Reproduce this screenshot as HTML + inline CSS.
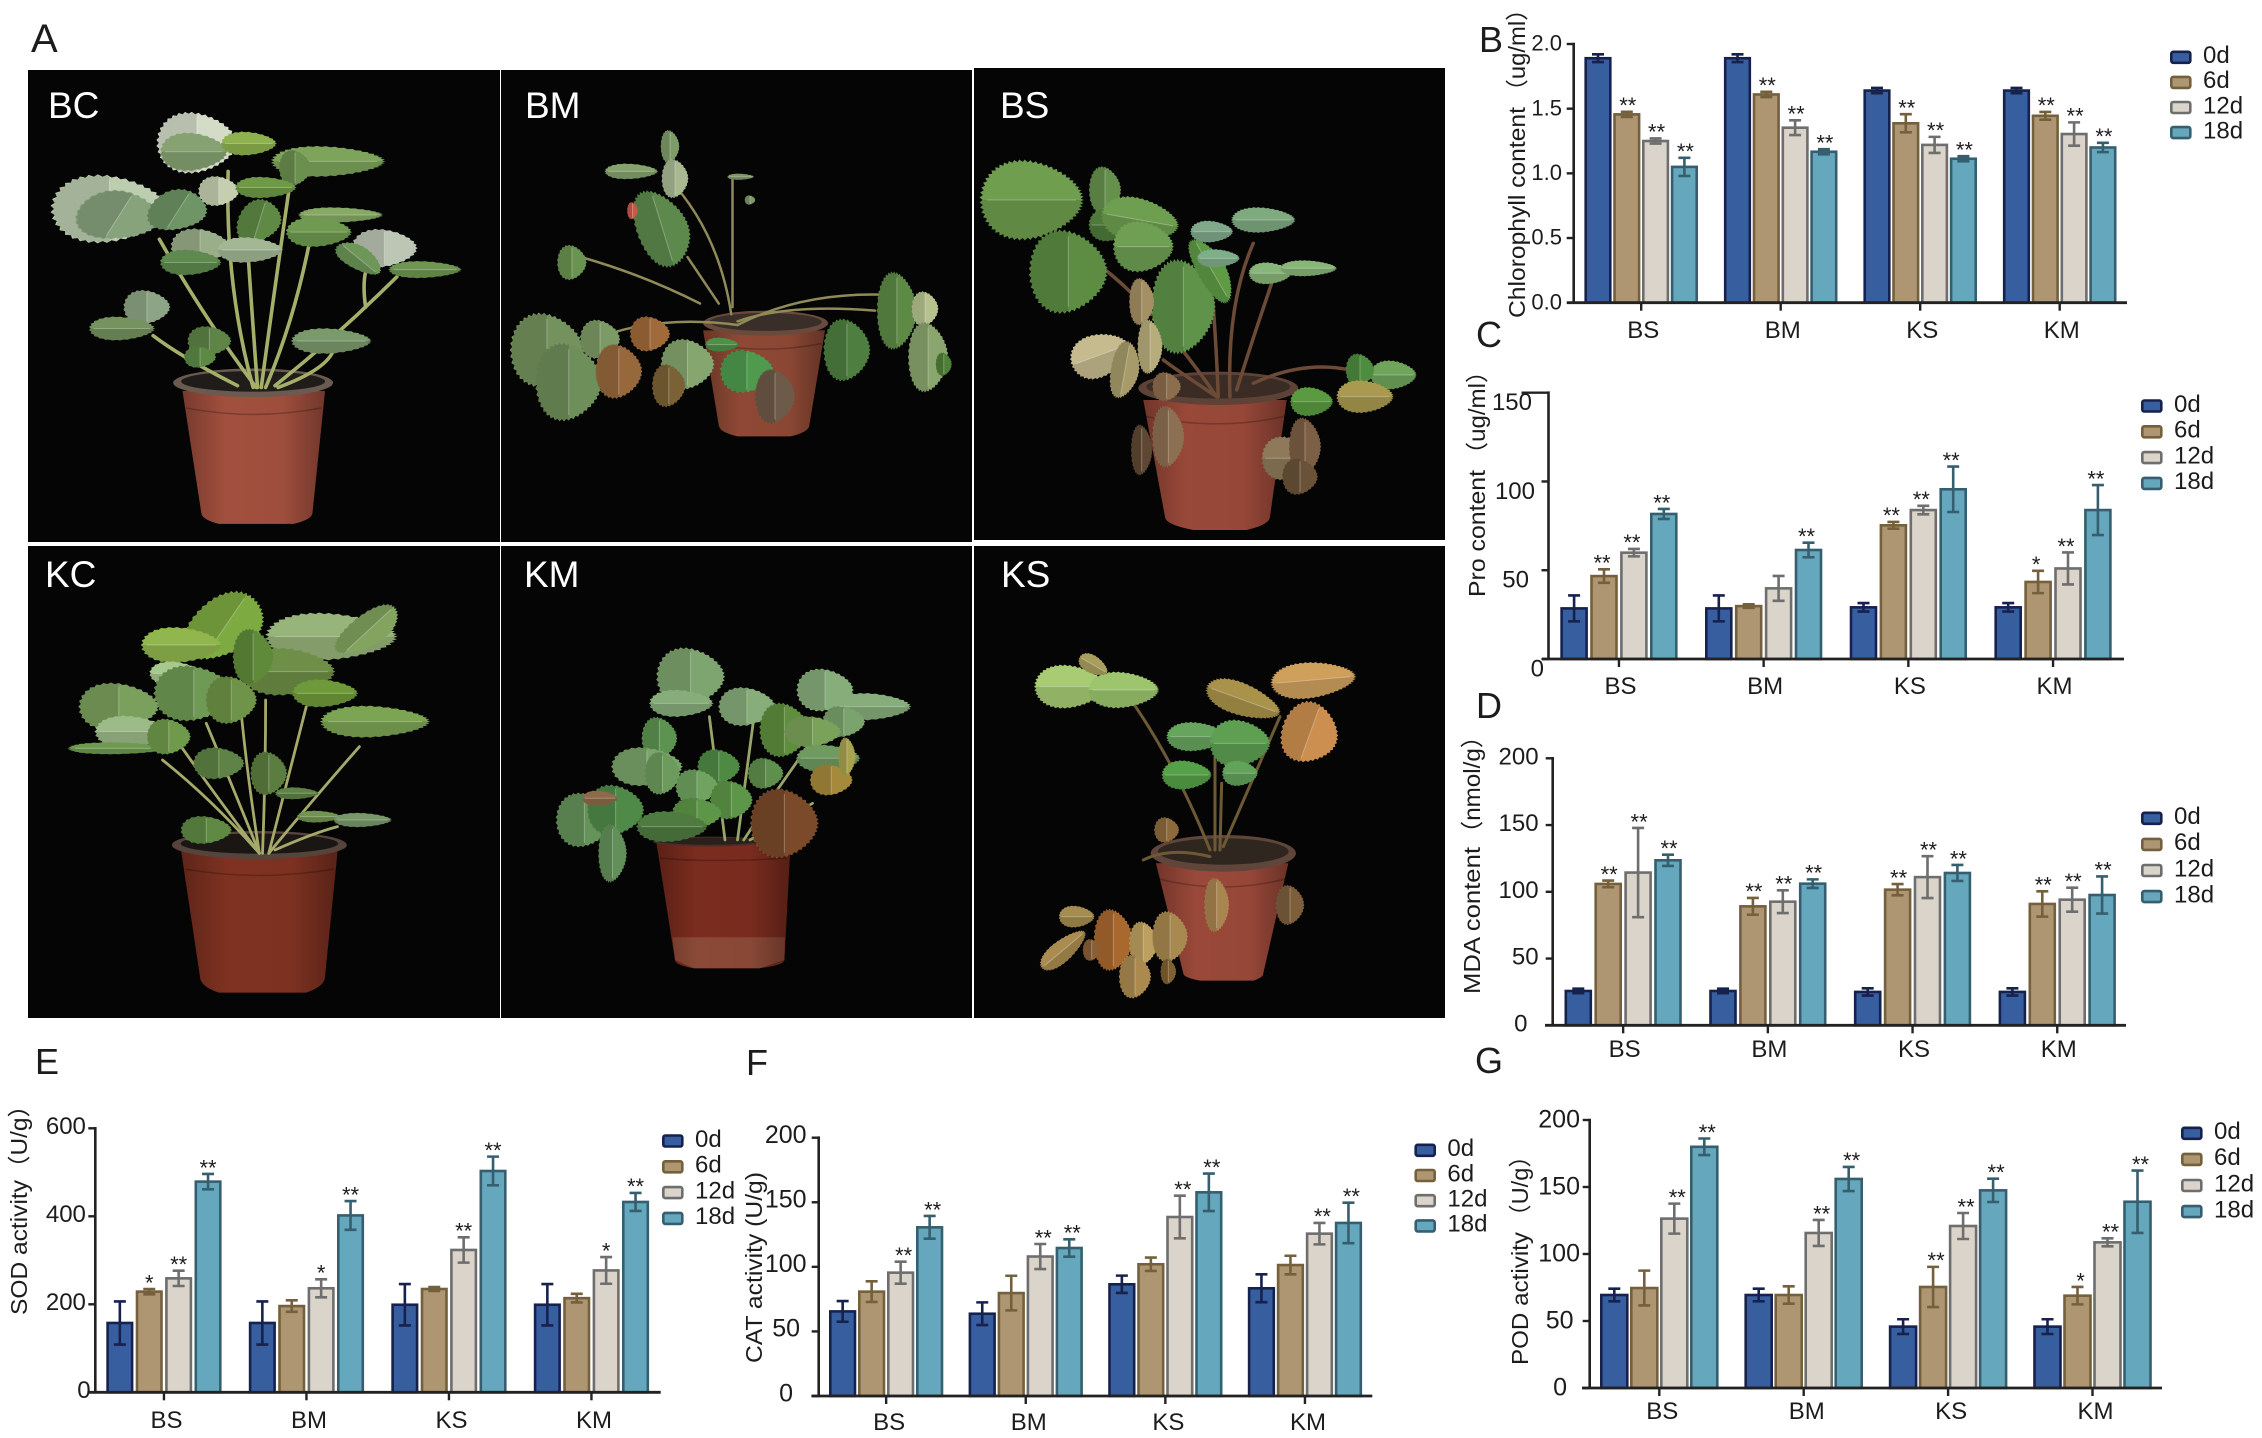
<!DOCTYPE html>
<html lang="en">
<head>
<meta charset="utf-8">
<title>Strawberry stress physiology figure</title>
<style>
html,body{margin:0;padding:0;background:#fff;}
svg{display:block;}
text{font-family:"Liberation Sans","Noto Sans CJK SC",sans-serif;fill:#1c1c1c;}
.img-label{fill:#fff;font-size:37px;}
.panel-letter{font-size:36px;}
</style>
</head>
<body>
<svg id="figure" xmlns="http://www.w3.org/2000/svg" width="2262" height="1438" viewBox="0 0 2262 1438">
  <defs>
    <linearGradient id="potShade" x1="0" x2="1" y1="0" y2="0">
      <stop offset="0" stop-color="#000" stop-opacity="0.28"/>
      <stop offset="0.3" stop-color="#000" stop-opacity="0.02"/>
      <stop offset="0.7" stop-color="#000" stop-opacity="0.04"/>
      <stop offset="1" stop-color="#000" stop-opacity="0.32"/>
    </linearGradient>
  </defs>
  <rect x="0" y="0" width="2262" height="1438" fill="#ffffff"/>
  <g id="photos">
    <rect x="28" y="70" width="472" height="472" fill="#050505"/>
    <rect x="501" y="70" width="471" height="472" fill="#050505"/>
    <rect x="974" y="68" width="471" height="472" fill="#050505"/>
    <rect x="28" y="546" width="472" height="472" fill="#050505"/>
    <rect x="501" y="546" width="471" height="472" fill="#050505"/>
    <rect x="974" y="546" width="471" height="472" fill="#050505"/>
  </g>
  <g id="plants"></g>
  <text class="img-label" x="48" y="118">BC</text>
  <text class="img-label" x="525" y="118">BM</text>
  <text class="img-label" x="1000" y="118">BS</text>
  <text class="img-label" x="45" y="587">KC</text>
  <text class="img-label" x="524" y="587">KM</text>
  <text class="img-label" x="1001" y="587">KS</text>

  <text class="panel-letter" style="font-size:40px" x="31" y="52">A</text>
  <text class="panel-letter" x="1479" y="52">B</text>
  <text class="panel-letter" x="1476" y="347">C</text>
  <text class="panel-letter" x="1476" y="718">D</text>
  <text class="panel-letter" x="35" y="1074">E</text>
  <text class="panel-letter" x="746" y="1075">F</text>
  <text class="panel-letter" x="1475" y="1073">G</text>
  <g id="charts"></g>
</svg>

<script>
// ---------- chart data ----------
const categories = ['BS', 'BM', 'KS', 'KM'];
const seriesNames = ['0d', '6d', '12d', '18d'];

const chlorophyllTicks = [0, 0.5, 1, 1.5, 2];
const chlorophyllTickLabels = ['0.0', '0.5', '1.0', '1.5', '2.0'];
const chlorophyllMeans = [[1.89, 1.456, 1.25, 1.05], [1.89, 1.61, 1.353, 1.167], [1.64, 1.387, 1.22, 1.113], [1.64, 1.445, 1.304, 1.2]];
const chlorophyllErrors = [[0.03, 0.02, 0.02, 0.07], [0.03, 0.02, 0.057, 0.02], [0.02, 0.07, 0.062, 0.02], [0.02, 0.03, 0.09, 0.036]];
const chlorophyllStars = [['', '**', '**', '**'], ['', '**', '**', '**'], ['', '**', '**', '**'], ['', '**', '**', '**']];

const proTicks = [0, 50, 100, 150];
const proTickLabels = ['0', '50', '100', '150'];
const proMeans = [[28.5, 46.7, 59.9, 81.7], [28.5, 29.8, 39.8, 61.4], [29.1, 75.3, 83.9, 95.6], [29.1, 43.4, 51, 83.9]];
const proErrors = [[7.3, 3.8, 2.1, 2.8], [7.3, 1, 7, 4.1], [2.4, 1.9, 2.4, 12.8], [2.4, 6.3, 9, 14.1]];
const proStars = [['', '**', '**', '**'], ['', '', '', '**'], ['', '**', '**', '**'], ['', '*', '**', '**']];

const mdaTicks = [0, 50, 100, 150, 200];
const mdaTickLabels = ['0', '50', '100', '150', '200'];
const mdaMeans = [[25.7, 105.9, 114.4, 123.6], [25.7, 89.1, 92.6, 106.1], [25, 101.6, 111, 114.1], [25, 90.9, 94.1, 97.6]];
const mdaErrors = [[1.7, 2.5, 33.4, 4.2], [1.7, 6.3, 8.5, 3.2], [2.7, 4.2, 15.7, 6], [2.7, 9.5, 9, 13.9]];
const mdaStars = [['', '**', '**', '**'], ['', '**', '**', '**'], ['', '**', '**', '**'], ['', '**', '**', '**']];

const sodTicks = [0, 200, 400, 600];
const sodTickLabels = ['0', '200', '400', '600'];
const sodMeans = [[157.6, 228.8, 259, 478.8], [157.6, 196, 236.4, 402], [199, 234.8, 323.5, 503], [199, 214, 277, 432.6]];
const sodErrors = [[49, 6, 17.4, 17.4], [49, 13, 20.5, 32.6], [47, 4.5, 28.8, 32.6], [47, 9.8, 30.3, 20.5]];
const sodStars = [['', '*', '**', '**'], ['', '', '*', '**'], ['', '', '**', '**'], ['', '', '*', '**']];

const catTicks = [0, 50, 100, 150, 200];
const catTickLabels = ['0', '50', '100', '150', '200'];
const catMeans = [[65.5, 80.8, 95.5, 130.6], [63.7, 79.7, 108, 114.6], [86.5, 102, 138.6, 157.7], [83.4, 101.4, 125.7, 134]];
const catErrors = [[8, 8, 8.5, 8.8], [8.8, 13.4, 9.7, 6.7], [6.7, 5.2, 16.5, 14.5], [10.8, 7.2, 8.3, 15.7]];
const catStars = [['', '', '**', '**'], ['', '', '**', '**'], ['', '', '**', '**'], ['', '', '**', '**']];

const podTicks = [0, 50, 100, 150, 200];
const podTickLabels = ['0', '50', '100', '150', '200'];
const podMeans = [[69.4, 74.6, 126.4, 180], [69.4, 69.4, 115.7, 156], [45.8, 75.4, 120.9, 147.5], [45.8, 68.9, 108.7, 139]];
const podErrors = [[4.7, 13, 11.2, 6.2], [4.7, 6.5, 9.7, 9], [5.5, 15, 9.7, 8.7], [5.5, 6.5, 3, 23.3]];
const podStars = [['', '', '**', '**'], ['', '', '**', '**'], ['', '**', '**', '**'], ['', '*', '**', '**']];

const fills = ['#375e9f', '#ae9672', '#dad4ca', '#65a7bc'];
const strokes = ['#16214e', '#74603c', '#6e6e6e', '#355f6f'];

const NS = 'http://www.w3.org/2000/svg';
function svgEl(tag, attrs, parent) {
  const el = document.createElementNS(NS, tag);
  for (const k in attrs) { el.setAttribute(k, attrs[k]); }
  parent.appendChild(el);
  return el;
}

// ---------- chart renderer ----------
function renderChart(cfg, means, errors, stars, ticks, tickLabels) {
  const root = document.getElementById('charts');
  const g = svgEl('g', {}, root);
  
  

  const yScale = v => cfg.y0 - (v / cfg.yMax) * (cfg.y0 - cfg.yTop);
  const xBar = (i, j) => cfg.barX + i * cfg.groupStep + j * cfg.barStep;
  const xGroup = i => cfg.barX + i * cfg.groupStep + 1.5 * cfg.barStep + cfg.barW / 2;

  categories.forEach((cat, i) => {
    seriesNames.forEach((sn, j) => {
      const value = means[i][j];
      const err = errors[i][j];
      const x = xBar(i, j);
      const top = yScale(value);
      const bar = svgEl('rect', { x: x, y: top, width: cfg.barW, height: cfg.y0 - top, fill: fills[j], stroke: strokes[j], 'stroke-width': 2.6 }, g);
      
      

      const cx = x + cfg.barW / 2;
      const hi = yScale(value + err);
      const lo = yScale(value - err);
      const errPath = svgEl('path', { d: 'M' + cx + ' ' + lo + 'V' + hi + 'M' + (cx - 6) + ' ' + hi + 'H' + (cx + 6) + 'M' + (cx - 6) + ' ' + lo + 'H' + (cx + 6), fill: 'none', stroke: strokes[j], 'stroke-width': 2.6 }, g);
      
      

      if (stars[i][j]) {
        const star = svgEl('text', { x: cx + cfg.starDx, y: hi + 1.3, 'text-anchor': 'middle', 'font-size': 22 }, g);
        star.textContent = stars[i][j];
        
        
      }
    });
  });

  const yAxis = svgEl('line', { x1: cfg.axisX, x2: cfg.axisX, y1: cfg.yTop - 1.3, y2: cfg.y0, stroke: '#222', 'stroke-width': 2.6 }, g);
  
  
  const xAxis = svgEl('line', { x1: cfg.xL, x2: cfg.xR, y1: cfg.y0, y2: cfg.y0, stroke: '#222', 'stroke-width': 2.8 }, g);
  
  

  ticks.forEach((t, k) => {
    const y = yScale(t);
    const len = (k === ticks.length - 1 && cfg.topTickLen) ? cfg.topTickLen : 7;
    const tick = svgEl('line', { x1: cfg.axisX - len, x2: cfg.axisX, y1: y, y2: y, stroke: '#222', 'stroke-width': 2.4 }, g);
    
    
    const label = tickLabels[k];
    const right = cfg.labelRight[label] !== undefined ? cfg.labelRight[label] : cfg.labelRight.other;
    const txt = svgEl('text', { x: right, y: y + cfg.labelDy + cfg.tickFont * 0.35, 'text-anchor': 'end', 'font-size': cfg.tickFont }, g);
    txt.textContent = label;
    
    
  });

  categories.forEach((cat, i) => {
    const x = xGroup(i);
    const tick = svgEl('line', { x1: x, x2: x, y1: cfg.y0, y2: cfg.y0 + 8, stroke: '#222', 'stroke-width': 2.4 }, g);
    
    
    const txt = svgEl('text', { x: x + cfg.catDx, y: cfg.catY, 'text-anchor': 'middle', 'font-size': 24 }, g);
    txt.textContent = cat;
    
    
  });

  const title = svgEl('text', {
    x: cfg.titleX, y: cfg.titleBottom, 'font-size': 23,
    transform: 'rotate(-90 ' + cfg.titleX + ' ' + cfg.titleBottom + ')',
    textLength: cfg.titleLen, lengthAdjust: 'spacingAndGlyphs'
  }, g);
  title.textContent = cfg.title;
  
  
  if (cfg.unit) {
    const unit = svgEl('text', {
      x: cfg.titleX, y: cfg.unitBottom, 'font-size': 23,
      transform: 'rotate(-90 ' + cfg.titleX + ' ' + cfg.unitBottom + ')',
      textLength: cfg.unitLen, lengthAdjust: 'spacingAndGlyphs'
    }, g);
    unit.textContent = cfg.unit;
    
    
  }

  seriesNames.forEach((sn, j) => {
    const cy = cfg.legendY + j * cfg.legendStep;
    const sw = svgEl('rect', { x: cfg.legendX + 1.3, y: cy - 5.5, width: 19, height: 11, rx: 2, fill: fills[j], stroke: strokes[j], 'stroke-width': 2.6 }, g);
    
    
    const txt = svgEl('text', { x: cfg.legendX + 33, y: cy + 5.8, 'font-size': 24 }, g);
    txt.textContent = sn;
    
    
  });
}

renderChart({ id: 'chlorophyll', axisX: 1573.7, y0: 302.7, yTop: 44, yMax: 2, xL: 1567, xR: 2127, barX: 1585.7, barW: 24.6, barStep: 28.8, groupStep: 139.5, tickFont: 22, labelRight: { other: 1562 }, labelDy: -1, catDx: 2, catY: 338, starDx: 1, title: 'Chlorophyll content', titleX: 1525, titleBottom: 318, titleLen: 211, unit: '（ug/ml）', unitBottom: 103, unitLen: 106, legendX: 2170, legendY: 57.3, legendStep: 25.1 }, chlorophyllMeans, chlorophyllErrors, chlorophyllStars, chlorophyllTicks, chlorophyllTickLabels);

renderChart({ id: 'pro', axisX: 1548.5, y0: 659, yTop: 392.7, yMax: 150, xL: 1542, xR: 2124, barX: 1561.6, barW: 25, barStep: 29.9, groupStep: 144.7, tickFont: 24, labelRight: { other: 1535, '150': 1532, '50': 1529, '0': 1544 }, labelDy: 9, topTickLen: 27, catDx: 1.5, catY: 694, starDx: -2, title: 'Pro content', titleX: 1485, titleBottom: 597, titleLen: 127, unit: '（ug/ml）', unitBottom: 466, unitLen: 107, legendX: 2141, legendY: 406, legendStep: 25.8 }, proMeans, proErrors, proStars, proTicks, proTickLabels);

renderChart({ id: 'mda', axisX: 1552.7, y0: 1025.3, yTop: 758.3, yMax: 200, xL: 1545, xR: 2126, barX: 1565.8, barW: 25, barStep: 29.9, groupStep: 144.7, tickFont: 24, labelRight: { other: 1538.6, '0': 1527.5 }, labelDy: -2.3, catDx: 1.5, catY: 1057, starDx: 1, title: 'MDA content', titleX: 1480, titleBottom: 994, titleLen: 147, unit: '（nmol/g）', unitBottom: 845, unitLen: 121, legendX: 2141, legendY: 818.3, legendStep: 26.1 }, mdaMeans, mdaErrors, mdaStars, mdaTicks, mdaTickLabels);

renderChart({ id: 'sod', axisX: 95.3, y0: 1392.3, yTop: 1128.3, yMax: 600, xL: 88.7, xR: 660.7, barX: 107.6, barW: 24.5, barStep: 29.4, groupStep: 142.5, tickFont: 24, labelRight: { other: 85.9, '0': 90.6 }, labelDy: -2.5, catDx: 2.5, catY: 1428, starDx: 0, title: 'SOD activity', titleX: 27, titleBottom: 1315, titleLen: 135, unit: '（U/g）', unitBottom: 1180, unitLen: 87, legendX: 662, legendY: 1141, legendStep: 25.8 }, sodMeans, sodErrors, sodStars, sodTicks, sodTickLabels);

renderChart({ id: 'cat', axisX: 818.7, y0: 1396, yTop: 1137.7, yMax: 200, xL: 811.4, xR: 1372.3, barX: 830.3, barW: 24.7, barStep: 29, groupStep: 139.6, tickFont: 25, labelRight: { other: 806.6, '50': 800, '0': 793 }, labelDy: -3.5, catDx: 3, catY: 1430, starDx: 3, title: 'CAT activity (U/g)', titleX: 762, titleBottom: 1363, titleLen: 191, legendX: 1414.4, legendY: 1150.3, legendStep: 25.2 }, catMeans, catErrors, catStars, catTicks, catTickLabels);

renderChart({ id: 'pod', axisX: 1589.7, y0: 1388, yTop: 1120, yMax: 200, xL: 1582, xR: 2162, barX: 1601.3, barW: 26, barStep: 30, groupStep: 144.4, tickFont: 25, labelRight: { other: 1580, '50': 1573.5, '0': 1567 }, labelDy: -1.5, catDx: 3, catY: 1419, starDx: 3, title: 'POD activity', titleX: 1528, titleBottom: 1365, titleLen: 133, unit: '（U/g）', unitBottom: 1228, unitLen: 84, legendX: 2181, legendY: 1133.3, legendStep: 26.1 }, podMeans, podErrors, podStars, podTicks, podTickLabels);

// ---------- plant illustrations (vector approximations of the photos) ----------
function leafPoints(rx, ry, from, to, n) {
  const pts = [];
  for (let k = 0; k <= n; k++) {
    const a = from + (k / n) * (to - from);
    const r = k % 2 === 0 ? 1 : 0.94;
    const taper = 1 - 0.22 * Math.cos(a);
    pts.push((Math.cos(a) * rx * r).toFixed(1) + ' ' + (Math.sin(a) * ry * r * taper).toFixed(1));
  }
  return pts;
}

function drawPlant(p) {
  const layer = document.getElementById('plants');
  const g = svgEl('g', { transform: 'translate(' + p.tx + ' ' + p.ty + ') scale(' + p.sx + ' ' + p.sy + ')' }, layer);
  
  

  const pot = p.pot;
  const bodyD = 'M' + pot.topL + ' ' + pot.topY + 'L' + pot.topR + ' ' + pot.topY + 'L' + pot.botR + ' ' + pot.botY + 'Q' + pot.botR + ' ' + (pot.botY + (pot.footY - pot.botY) * 0.6) + ' ' + pot.footR + ' ' + pot.footY + 'L' + pot.footL + ' ' + pot.footY + 'Q' + pot.botL + ' ' + (pot.botY + (pot.footY - pot.botY) * 0.6) + ' ' + pot.botL + ' ' + pot.botY + 'Z';
  const body = svgEl('path', { d: bodyD, fill: pot.color }, g);
  
  
  if (pot.band) {
    const band = svgEl('path', { d: pot.band, fill: pot.bandColor }, g);
    
    
  }
  const shade = svgEl('path', { d: bodyD, fill: 'url(#potShade)' }, g);
  
  
  const grooveY = pot.topY + (pot.botY - pot.topY) * 0.14;
  const groove = svgEl('path', { d: 'M' + (pot.topL + 6) + ' ' + grooveY + 'Q' + pot.cx + ' ' + (grooveY + pot.ry * 0.9) + ' ' + (pot.topR - 6) + ' ' + grooveY, fill: 'none', stroke: '#000', 'stroke-opacity': 0.22, 'stroke-width': 1.6, 'vector-effect': 'non-scaling-stroke' }, g);
  
  

  const rim = svgEl('ellipse', { cx: pot.cx, cy: pot.cy, rx: pot.rx, ry: pot.ry, fill: pot.rimColor }, g);
  
  
  const soil = svgEl('ellipse', { cx: pot.cx, cy: pot.cy - pot.ry * 0.1, rx: pot.rx * 0.9, ry: pot.ry * 0.72, fill: pot.soil }, g);
  
  

  p.stems.forEach(s => {
    const stem = svgEl('path', { d: s, fill: 'none', stroke: p.stemColor, 'stroke-width': p.stemWidth, 'vector-effect': 'non-scaling-stroke', 'stroke-linecap': 'round' }, g);
    
    
  });

  const scale = p.leafScale;
  p.leaves.forEach(l => {
    const rx = l[2] * scale;
    const ry = l[3] * scale;
    const long = Math.max(rx, ry);
    const n = Math.max(16, Math.round(long / 3.2) * 2 + 20);
    const lg = svgEl('g', { transform: 'translate(' + l[0] + ' ' + l[1] + ') rotate(' + l[4] + ')' }, g);
    
    
    const blade = svgEl('path', { d: 'M' + leafPoints(rx, ry, 0, Math.PI * 2, n).join('L') + 'Z', fill: l[5] }, lg);
    
    
    const half = svgEl('path', { d: ry >= rx ? 'M' + leafPoints(rx, ry, Math.PI / 2, Math.PI * 1.5, n >> 1).join('L') + 'Z' : 'M' + leafPoints(rx, ry, 0, Math.PI, n >> 1).join('L') + 'Z', fill: '#000', 'fill-opacity': 0.13 }, lg);
    
    
    const vein = svgEl('path', { d: ry >= rx ? 'M0 ' + (-ry * 0.85) + 'V' + (ry * 0.85) : 'M' + (-rx * 0.85) + ' 0H' + (rx * 0.85), fill: 'none', stroke: '#fff', 'stroke-opacity': 0.28, 'stroke-width': 1, 'vector-effect': 'non-scaling-stroke' }, lg);
    
    
  });
}

drawPlant({ id: 'bc', tx: 0, ty: 0, sx: 0.625, sy: 0.3571, stemColor: '#a4b06a', stemWidth: 3.6, leafScale: 1.18,
  pot: { cx: 405, cy: 1072, rx: 128, ry: 40, topL: 292, topR: 520, topY: 1095, botL: 322, botR: 500, botY: 1435, footL: 350, footR: 470, footY: 1467, color: '#a5513f', rimColor: '#6a5a50', soil: '#1f1c1a' },
  stems: ['M410 1085Q330 900 255 670', 'M405 1085Q360 800 365 480', 'M412 1085Q400 800 395 660', 'M418 1085Q440 800 465 500', 'M425 1085Q470 900 495 680', 'M440 1080Q540 940 635 775', 'M380 1080Q290 1000 245 940', 'M585 860Q580 800 585 760', 'M445 1085Q530 1030 535 970'],
  leaves: [[315, 400, 55, 72, 0, '#d4dcc8'], [310, 425, 46, 45, 0, '#86a272'], [398, 402, 38, 28, 0, '#8db24f'], [525, 452, 78, 36, 0, '#7da45a'], [472, 470, 22, 42, 0, '#6a8f4e'], [175, 585, 80, 80, 0, '#bccdb0'], [190, 605, 58, 58, 20, '#87a37c'], [285, 590, 40, 50, 20, '#6f9465'], [415, 620, 30, 52, 10, '#5f8a45'], [350, 535, 28, 35, 0, '#c5cfb0'], [425, 525, 42, 25, 0, '#6e9a48'], [545, 602, 58, 18, 0, '#86a964'], [510, 650, 45, 35, 0, '#6f9a50'], [615, 695, 45, 45, 0, '#bcc6b4'], [575, 725, 45, 22, 55, '#6d9658'], [680, 755, 50, 20, 0, '#6e9650'], [320, 690, 40, 42, 0, '#9aae8a'], [400, 700, 45, 30, 0, '#a3b795'], [305, 735, 42, 30, 0, '#5f8a4f'], [235, 860, 32, 40, 0, '#8ea585'], [195, 920, 45, 28, 0, '#76925f'], [335, 955, 30, 35, 0, '#5f8447'], [320, 1000, 22, 25, 0, '#5c8a45'], [530, 955, 55, 30, 0, '#7b9a6b']] });

drawPlant({ id: 'bm', tx: 0, ty: 0, sx: 0.625, sy: 0.3571, stemColor: '#8f8a58', stemWidth: 2.5, leafScale: 1.08,
  pot: { cx: 1225, cy: 905, rx: 100, ry: 35, topL: 1125, topR: 1320, topY: 925, botL: 1150, botR: 1295, botY: 1190, footL: 1180, footR: 1265, footY: 1222, color: '#914a36', rimColor: '#6a4a3c', soil: '#3a2f28' },
  stems: ['M1170 880Q1150 650 1070 500', 'M1172 860L1172 500', 'M1120 850Q1030 770 930 720', 'M1180 910Q1280 820 1410 825', 'M1180 910Q1050 880 950 950', 'M1150 850L1100 720', 'M1180 900Q1260 850 1400 870'],
  leaves: [[1072, 410, 14, 42, 0, '#7e9c68'], [1010, 480, 40, 20, 0, '#86a36e'], [1080, 500, 20, 50, 0, '#a8b992'], [1060, 640, 40, 100, -10, '#5d8a4c'], [1012, 590, 8, 22, 0, '#c8584a'], [915, 735, 22, 45, 0, '#6a9250'], [1185, 495, 20, 8, 0, '#7f966a'], [1200, 560, 8, 12, 0, '#7f966a'], [875, 980, 55, 95, 0, '#74925e'], [910, 1070, 50, 100, 0, '#6f8f5a'], [960, 950, 30, 50, 0, '#7c9a66'], [1040, 935, 30, 45, 0, '#a06a3a'], [990, 1040, 35, 70, 0, '#96683c'], [1100, 1020, 40, 65, 0, '#86a670'], [1070, 1080, 25, 55, 0, '#7a6236'], [1195, 1040, 40, 55, 0, '#4f9a4f'], [1155, 965, 25, 18, 0, '#4f8f48'], [1240, 1110, 30, 70, 0, '#6e5a48'], [1355, 980, 35, 80, 0, '#4f7f40'], [1435, 870, 30, 100, 0, '#5d8a45'], [1480, 865, 20, 45, 0, '#b5c28e'], [1485, 1000, 30, 90, 0, '#8aa66e'], [1510, 1020, 12, 30, 0, '#4f8038']] });

drawPlant({ id: 'bs', tx: 970, ty: 50, sx: 0.3333, sy: 0.3333, stemColor: '#6b4a36', stemWidth: 3.5, leafScale: 1.08,
  pot: { cx: 745, cy: 1015, rx: 240, ry: 50, topL: 520, topR: 950, topY: 1050, botL: 585, botR: 900, botY: 1400, footL: 670, footR: 830, footY: 1440, color: '#9c4a3a', rimColor: '#5f4237', soil: '#3a2c24' },
  stems: ['M740 1040Q560 780 400 655', 'M745 1040Q735 800 720 660', 'M780 1040Q770 760 850 580', 'M800 1020Q850 860 905 700', 'M850 1000Q1000 930 1140 960', 'M740 1040Q620 960 580 930'],
  leaves: [[185, 450, 145, 110, 0, '#6f9e4f'], [295, 665, 110, 115, 0, '#5c8d42'], [405, 420, 45, 65, 0, '#66914d'], [420, 525, 60, 45, 0, '#4f7a3c'], [510, 510, 110, 60, 10, '#6e9f50'], [520, 590, 85, 70, 0, '#6f9f52'], [640, 770, 90, 130, 0, '#5f9349'], [725, 660, 40, 100, -30, '#5f9a45'], [725, 545, 60, 30, 0, '#7fa98a'], [880, 510, 90, 35, 0, '#7faa80'], [900, 670, 60, 30, 0, '#88b578'], [1015, 655, 80, 22, 0, '#88b578'], [745, 625, 60, 25, 0, '#7fae8a'], [515, 755, 35, 65, 0, '#a58f64'], [390, 915, 85, 60, -20, '#c6bb8f'], [465, 960, 40, 80, 10, '#a79b6a'], [540, 890, 35, 75, 0, '#b7ad7c'], [590, 1010, 40, 40, 0, '#8c6d4d'], [595, 1160, 45, 85, 0, '#8d6f51'], [515, 1200, 30, 70, 0, '#5f4833'], [950, 1225, 70, 60, 0, '#8e7a5a'], [1005, 1190, 45, 80, 0, '#7c5f44'], [990, 1280, 50, 50, 0, '#6a5238'], [1270, 975, 65, 40, 0, '#6fa55b'], [1170, 960, 40, 45, 0, '#4e8c3f'], [1025, 1055, 60, 40, 0, '#5a9a40'], [1185, 1040, 80, 45, 0, '#a99a50']] });

drawPlant({ id: 'kc', tx: 0, ty: 540, sx: 0.625, sy: 0.3333, stemColor: '#a5a96a', stemWidth: 2.8, leafScale: 1.18,
  pot: { cx: 415, cy: 915, rx: 140, ry: 42, topL: 290, topR: 540, topY: 935, botL: 320, botR: 520, botY: 1310, footL: 350, footR: 490, footY: 1358, color: '#823322', rimColor: '#55443c', soil: '#1a1614' },
  stems: ['M415 940Q340 780 260 660', 'M415 940Q350 780 290 620', 'M415 940Q370 730 330 550', 'M415 940Q395 700 385 500', 'M420 940Q425 700 425 480', 'M430 940Q460 720 490 500', 'M430 940Q500 780 575 620', 'M440 930Q500 880 540 860'],
  leaves: [[360, 260, 50, 90, 20, '#7eaa42'], [290, 315, 55, 45, 0, '#91b64d'], [530, 290, 90, 60, 0, '#97b47a'], [590, 270, 30, 70, 30, '#82a45f'], [460, 395, 65, 60, 0, '#6e8f47'], [405, 350, 28, 70, 0, '#5f8a3a'], [280, 400, 35, 30, 0, '#a8c98e'], [310, 460, 55, 70, 0, '#6f9a56'], [190, 500, 55, 60, 0, '#7ba05e'], [210, 575, 50, 40, 0, '#9cbb88'], [190, 625, 70, 15, 0, '#6e9a50'], [270, 590, 30, 45, 0, '#6f9a4c'], [370, 480, 35, 60, 0, '#6f9348'], [520, 460, 45, 35, 0, '#6f9a3c'], [600, 545, 75, 40, 0, '#7ba553'], [350, 670, 35, 40, 0, '#5f8346'], [430, 700, 25, 55, 0, '#5c7d40'], [475, 760, 30, 15, 0, '#5f8346'], [510, 830, 30, 15, 0, '#71944f'], [580, 840, 40, 18, 0, '#78986a'], [330, 870, 35, 35, 0, '#5f8a44']] });

drawPlant({ id: 'km', tx: 0, ty: 540, sx: 0.625, sy: 0.3333, stemColor: '#97a56a', stemWidth: 2.8, leafScale: 1.15,
  pot: { cx: 1135, cy: 905, rx: 90, ry: 15, topL: 1050, topR: 1265, topY: 905, botL: 1080, botR: 1255, botY: 1260, footL: 1110, footR: 1215, footY: 1285, color: '#7d2d1f', rimColor: '#4a2f28', soil: '#2a1f1a', band: 'M1076 1192L1256 1192L1255 1260L1215 1285L1110 1285L1080 1260Z', bandColor: '#8e4b38' },
  stems: ['M1160 900L1135 530', 'M1180 900L1205 550', 'M1190 900Q1260 700 1320 550', 'M1200 900L1300 790'],
  leaves: [[1105, 410, 48, 75, 0, '#7ea56f'], [1090, 490, 45, 35, 0, '#86ad7a'], [1195, 500, 40, 50, 0, '#86ad7a'], [1320, 450, 40, 55, 0, '#86ad7a'], [1395, 500, 55, 35, 0, '#86ad7a'], [1350, 545, 30, 40, 0, '#7aa36d'], [1255, 570, 35, 70, 0, '#5f8e3f'], [1300, 575, 40, 40, 0, '#7ba25a'], [1055, 595, 25, 55, 0, '#5c9350'], [1035, 680, 50, 50, 0, '#7aa56b'], [1060, 700, 25, 55, 0, '#6d9a5d'], [1325, 655, 45, 35, 0, '#6f9a60'], [1150, 680, 30, 45, 0, '#4f8a45'], [1115, 740, 30, 45, 0, '#6fa35f'], [1170, 780, 30, 50, 0, '#5d9648'], [1115, 820, 35, 40, 0, '#5d9648'], [1225, 700, 25, 40, 0, '#5f8f4c'], [935, 840, 40, 70, 0, '#65935a'], [985, 810, 40, 65, 0, '#4f8a48'], [980, 940, 20, 75, 0, '#63905a'], [1075, 860, 50, 40, 0, '#4f7a40'], [1330, 720, 30, 40, 0, '#a68a3c'], [1355, 650, 12, 50, 0, '#a8a350'], [1255, 850, 48, 90, 0, '#7a4a2a'], [960, 775, 25, 20, 0, '#8c6a4a']] });

drawPlant({ id: 'ks', tx: 970, ty: 540, sx: 0.3333, sy: 0.3333, stemColor: '#6d5a34', stemWidth: 3, leafScale: 1.08,
  pot: { cx: 760, cy: 940, rx: 218, ry: 55, topL: 558, topR: 955, topY: 970, botL: 640, botR: 880, botY: 1300, footL: 690, footR: 850, footY: 1322, color: '#9d4a3a', rimColor: '#5f453a', soil: '#2f2620' },
  stems: ['M720 930Q620 680 490 490', 'M735 930L735 650', 'M750 930L755 730', 'M760 920L930 530', 'M720 950Q600 920 520 960'],
  leaves: [[300, 440, 100, 60, 0, '#a7cc74'], [460, 450, 100, 50, 0, '#9cc56e'], [370, 375, 45, 25, 30, '#a99e5e'], [820, 480, 110, 45, 20, '#a9924a'], [1030, 420, 120, 50, -5, '#cfa05c'], [1020, 580, 80, 85, 20, '#cd8f50'], [680, 590, 85, 40, 0, '#67a55e'], [810, 610, 85, 65, 0, '#5f9f52'], [810, 700, 50, 35, 0, '#62a35a'], [650, 705, 70, 40, 0, '#55a048'], [590, 870, 35, 35, 0, '#8c6a3c'], [740, 1095, 35, 75, 0, '#a98550'], [960, 1095, 40, 55, 0, '#7d5f3c'], [320, 1130, 50, 30, 0, '#a58c50'], [280, 1230, 80, 30, -40, '#ab8c50'], [430, 1200, 55, 85, 0, '#a8682e'], [520, 1210, 40, 60, 0, '#bda060'], [600, 1190, 50, 70, 0, '#a88950'], [495, 1310, 45, 60, 0, '#ab8a50'], [595, 1295, 22, 35, 0, '#7f6030'], [365, 1230, 25, 30, 0, '#8a5f35']] });
</script>
</body>
</html>
